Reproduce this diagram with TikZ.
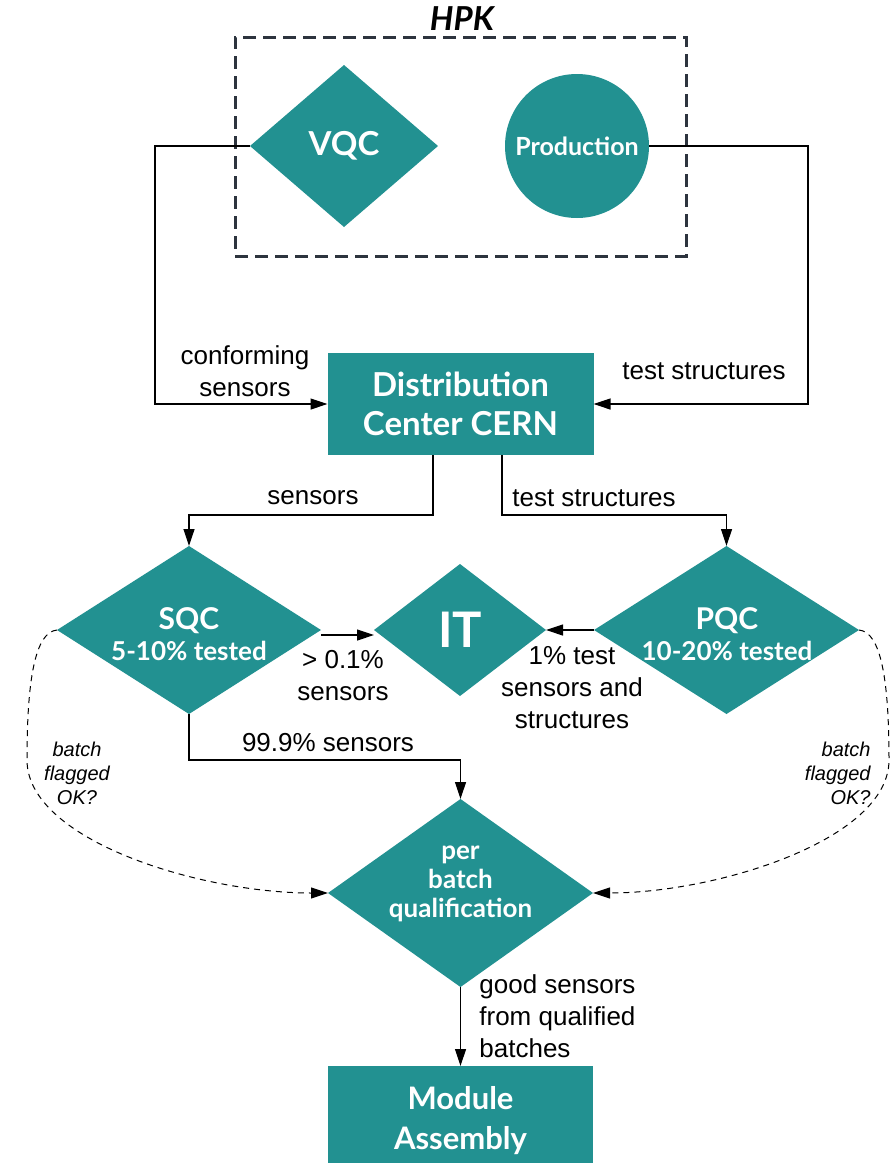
\documentclass[tikz,border=0pt]{standalone}
\usepackage{fontspec}
\setmainfont{Liberation Sans}
\newfontfamily\tfont{Lato}
\usetikzlibrary{shapes.geometric,arrows.meta}
\definecolor{boxteal}{RGB}{34,145,145}
\definecolor{hpkgray}{RGB}{45,52,62}

\begin{document}
\begin{tikzpicture}[x=0.5pt,y=-0.5pt,
  boxfill/.style={fill=boxteal,draw=none,inner sep=0pt,outer sep=0pt},
  dia/.style={boxfill,diamond},
  rectbox/.style={boxfill,rectangle,text=white,align=center},
  ttext/.style={text=white,align=center,inner sep=0pt},
  lab/.style={align=center,inner sep=0pt,font=\fontsize{13}{16}\selectfont},
  flaglab/.style={align=center,inner sep=0pt,font=\fontsize{10}{12}\selectfont\itshape},
  conn/.style={line width=0.6pt,-{Triangle[length=8.5pt,width=5.5pt]}},
  flagconn/.style={line width=0.5pt,dash pattern=on 3pt off 2.5pt,-{Triangle[length=8.5pt,width=5.5pt]}},
  hpkframe/.style={draw=hpkgray,line width=1.5pt,dash pattern=on 6.5pt off 3.5pt,
    rectangle,inner sep=0pt,outer sep=0pt}
]
\useasboundingbox (0,0) rectangle (892,1163);

% --- HPK group ---
\node[hpkframe,minimum width=225.5pt,minimum height=109.5pt] (hpk) at (460.5,146.5) {};
\node[inner sep=0pt,font=\tfont\bfseries\itshape\fontsize{16.5}{18}\selectfont] (hpklabel) at (462,19) {HPK};

\node[dia,minimum width=94pt,minimum height=81pt] (vqc) at (344,146) {};
\node[ttext,font=\tfont\bfseries\fontsize{16.5}{19}\selectfont] (vqc-t) at (vqc) {VQC};

\node[boxfill,circle,minimum size=72pt,text=white,font=\tfont\bfseries\fontsize{12.5}{15}\selectfont] (prod) at (577,146) {Production};

% --- distribution ---
\node[rectbox,minimum width=133pt,minimum height=51pt,
  font=\tfont\bfseries\fontsize{16.5}{19.5}\selectfont] (dc) at (460.5,404) {Distribution\\Center CERN};

% --- qualification stages ---
\node[dia,minimum width=132pt,minimum height=84pt] (sqc) at (189,630) {};
\node[ttext] (sqc-t) at (189,634) {{\tfont\bfseries\fontsize{15}{17}\selectfont SQC}\\[3.5pt]{\tfont\bfseries\fontsize{13}{15}\selectfont 5-10\% tested}};

\node[dia,minimum width=86pt,minimum height=66pt] (it) at (460,630) {};
\node[ttext,font=\tfont\bfseries\fontsize{24.5}{28}\selectfont] (it-t) at (it) {IT};

\node[dia,minimum width=132.5pt,minimum height=84pt] (pqc) at (726.5,630) {};
\node[ttext] (pqc-t) at (727,634) {{\tfont\bfseries\fontsize{15}{17}\selectfont PQC}\\[3.5pt]{\tfont\bfseries\fontsize{13}{15}\selectfont 10-20\% tested}};

\node[dia,minimum width=132.5pt,minimum height=94pt] (pbq) at (460.5,893) {};
\node[ttext,font=\tfont\bfseries\fontsize{13}{14.5}\selectfont] (pbq-t) at (460.5,884) {per\\batch\\qualification};

\node[rectbox,minimum width=132.5pt,minimum height=54.5pt,
  font=\tfont\bfseries\fontsize{15.5}{20}\selectfont] (ma) at (460.5,1120.5) {Module\\Assembly};

% --- routing points ---
\coordinate (vqc-bend) at (155,404);
\coordinate (prod-bend) at (808,404);
\coordinate (flag-l) at (27,760);
\coordinate (flag-r) at (889,760);

% --- connectors ---
\draw[conn] (vqc.west) -| (vqc-bend) -- (dc.west);
\draw[conn] (prod.east) -| (prod-bend) -- (dc.east);
\draw[conn] ([xshift=-13.75pt]dc.south) -- ++(0,60) -| (sqc.north);
\draw[conn] ([xshift=20.75pt]dc.south) -- ++(0,60) -| (pqc.north);
\draw[conn] ([yshift=-2.5pt]sqc.east) -- ([yshift=-2.5pt]it.west);
\draw[conn] (pqc.west) -- (it.east);
\draw[conn] (sqc.south) -- ++(0,46) -| (pbq.north);
\draw[conn] (pbq.south) -- (ma.north);
\draw[flagconn] (sqc.west) .. controls (35,632) and (27,680) .. (flag-l)
  .. controls (27,840) and (200,893) .. (pbq.west);
\draw[flagconn] (pqc.east) .. controls (881,632) and (889,680) .. (flag-r)
  .. controls (889,840) and (716,893) .. (pbq.east);

% --- connector labels ---
\node[lab] (l-conf) at (245,371) {conforming\\sensors};
\node[lab] (l-ts1) at (704,371) {test structures};
\node[lab] (l-sens) at (313,498) {sensors};
\node[lab] (l-ts2) at (594,498) {test structures};
\node[lab] (l-01) at (343,676) {> 0.1\%\\sensors};
\node[lab] (l-1pc) at (572,688) {1\% test\\sensors and\\structures};
\node[lab] (l-999) at (328,743) {99.9\% sensors};
\node[flaglab] (l-fl) at (77,773) {batch\\flagged\\OK?};
\node[flaglab,align=right,anchor=east] (l-fr) at (871,773) {batch\\flagged\\OK?};
\node[lab,align=left,anchor=west] (l-good) at (479,1016) {good sensors\\from qualified\\batches};
\end{tikzpicture}
\end{document}
